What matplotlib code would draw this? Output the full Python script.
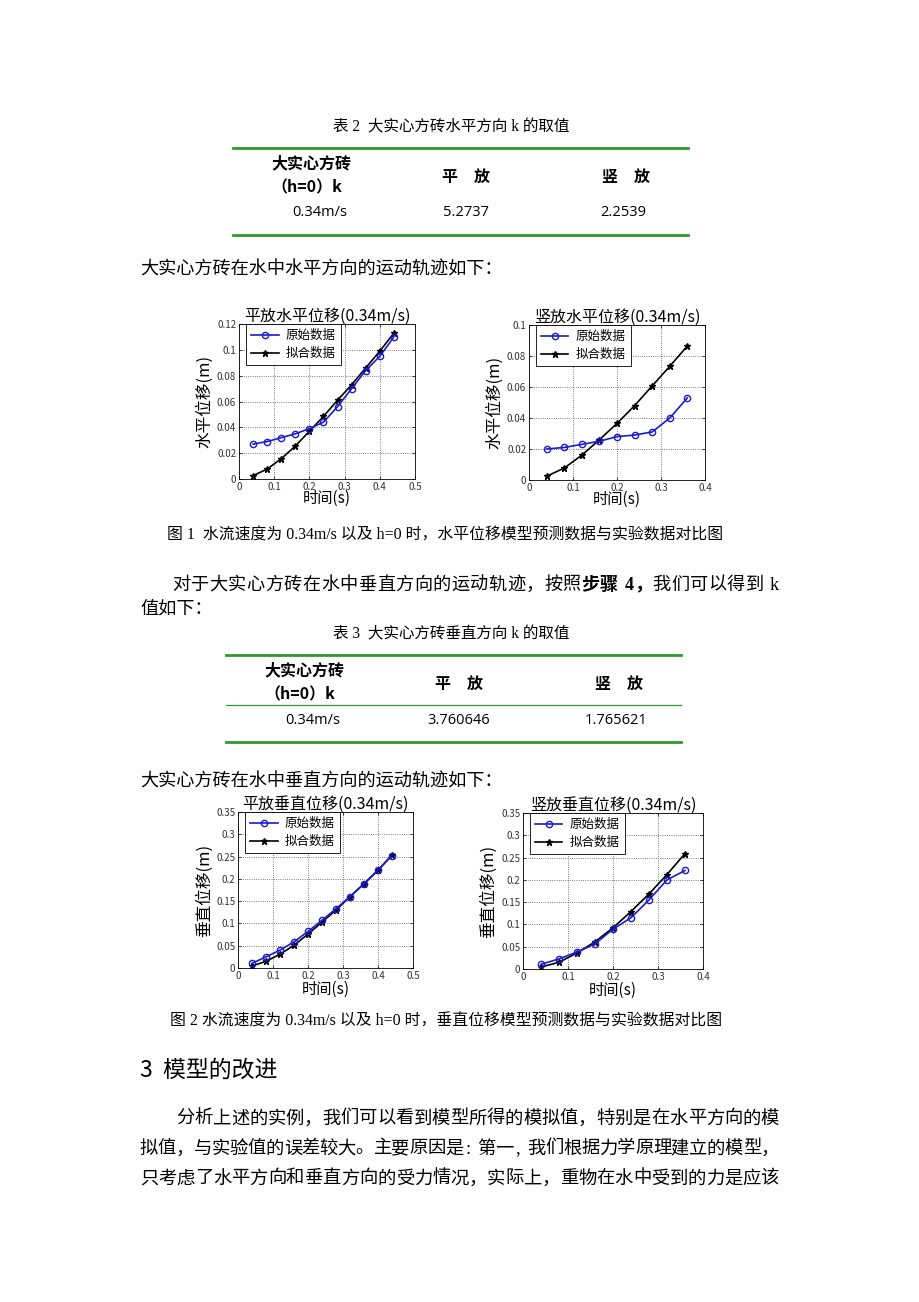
import matplotlib.pyplot as plt
from matplotlib.lines import Line2D
from matplotlib.ticker import FuncFormatter, MultipleLocator

W, H = 920, 1302
CJK = ['Noto Sans CJK SC', 'DejaVu Sans']
SERIF = ['Liberation Serif', 'Noto Sans CJK SC']

plt.rcParams['font.family'] = CJK
plt.rcParams['axes.unicode_minus'] = False

# time stamps (s)
t_long = [0.04, 0.08, 0.12, 0.16, 0.20, 0.24, 0.28, 0.32, 0.36, 0.40, 0.44]
t_short = [0.04, 0.08, 0.12, 0.16, 0.20, 0.24, 0.28, 0.32, 0.36]

# 平放水平位移
flat_h_raw = [0.027, 0.029, 0.032, 0.035, 0.039, 0.044, 0.056, 0.070, 0.084, 0.095, 0.110]
flat_h_fit = [0.0026, 0.0077, 0.0157, 0.0255, 0.037, 0.0485, 0.061, 0.073, 0.086, 0.099, 0.113]
# 竖放水平位移
vert_h_raw = [0.020, 0.021, 0.023, 0.025, 0.028, 0.029, 0.031, 0.040, 0.053]
vert_h_fit = [0.0024, 0.0077, 0.016, 0.026, 0.0365, 0.048, 0.0607, 0.0734, 0.0865]
# 平放垂直位移
flat_v_raw = [0.0105, 0.025, 0.040, 0.0586, 0.082, 0.107, 0.133, 0.160, 0.189, 0.220, 0.252]
flat_v_fit = [0.0045, 0.015, 0.031, 0.051, 0.076, 0.103, 0.130, 0.160, 0.189, 0.219, 0.254]
# 竖放垂直位移
vert_v_raw = [0.0105, 0.0226, 0.038, 0.0564, 0.0895, 0.115, 0.155, 0.200, 0.221]
vert_v_fit = [0.0045, 0.015, 0.036, 0.061, 0.0925, 0.129, 0.1685, 0.212, 0.259]

# tables
speed = '0.34m/s'
col_names = ['平\u3000放', '竖\u3000放']
k_horizontal = ['5.2737', '2.2539']
k_vertical = ['3.760646', '1.765621']

fig = plt.figure(figsize=(W / 100, H / 100), dpi=100)


def put(x, y, s, size, ha='left', weight='normal', family=CJK):
    fig.text(x / W, 1 - y / H, s, fontsize=size, ha=ha, va='center_baseline',
             fontweight=weight, family=family)


def justify(x0, x1, y, s, size, bold=()):
    em = size * 100 / 72
    widths = [em if ord(c) > 0x2e7f else (0.3 if c == ' ' else 0.5) * em for c in s]
    extra = (x1 - x0 - sum(widths)) / (len(s) - 1)
    x = x0
    for i, (c, w) in enumerate(zip(s, widths)):
        if c != ' ':
            put(x + w / 2, y, c, size, ha='center',
                weight='bold' if i in bold else 'normal', family=SERIF)
        x += w + extra


def hline(x0, x1, y, lw):
    fig.add_artist(Line2D([x0 / W, x1 / W], [1 - y / H] * 2, transform=fig.transFigure,
                          color='#2f9a2f', lw=lw))


def table(top, x0, x1, title, vals, mid=None):
    put(451, top - 23, title, 11.2, ha='center', family=SERIF)
    hline(x0, x1, top, 2.0)
    put(x0 + 78, top + 14, '大实心方砖', 11.5, ha='center', weight='bold')
    put(x0 + 74, top + 38, '（h=0）k', 11.5, ha='center', weight='bold')
    put(x0 + 233, top + 27, col_names[0], 11.5, ha='center', weight='bold')
    put(x0 + 393, top + 27, col_names[1], 11.5, ha='center', weight='bold')
    if mid is not None:
        hline(x0, x1, top + mid, 0.9)
    put(x0 + 87, top + 63, speed, 10.5, ha='center', family=['Open Sans'])
    put(x0 + 233, top + 63, vals[0], 10.5, ha='center', family=['Open Sans'])
    put(x0 + 390, top + 63, vals[1], 10.5, ha='center', family=['Open Sans'])
    hline(x0, x1, top + 87, 2.0)


def chart(box, t, raw, fit, title, ylabel, xmax, ymax, ystep, ylab_x, xlab_y):
    l, r, top, bot = box
    ax = fig.add_axes([l / W, 1 - bot / H, (r - l) / W, (bot - top) / H])
    ax.plot(t, fit, '-*', color='k', ms=5, lw=1.2, label='拟合数据', zorder=3)
    ax.plot(t, raw, '-o', color='#1a1ad0', mfc='none', ms=4.5, mew=1.0, lw=1.2,
            label='原始数据', zorder=4)
    ax.set_xlim(0, xmax)
    ax.set_ylim(0, ymax)
    ax.xaxis.set_major_locator(MultipleLocator(0.1))
    ax.yaxis.set_major_locator(MultipleLocator(ystep))
    fmt = FuncFormatter(lambda v, p: '%g' % round(v, 4))
    ax.xaxis.set_major_formatter(fmt)
    ax.yaxis.set_major_formatter(fmt)
    ax.tick_params(direction='in', top=True, right=True, labelsize=7, length=2.5,
                   width=0.5, pad=2, labelcolor='#333333')
    ax.grid(True, ls=':', color='#555555', lw=0.6)
    for sp in ax.spines.values():
        sp.set_linewidth(0.6)
    ax.set_title(title, fontsize=11.5, pad=2)
    ax.set_ylabel(ylabel, fontsize=12)
    ax.yaxis.set_label_coords((ylab_x - l) / (r - l), 0.5)
    ax.set_xlabel('时间(s)', fontsize=11)
    ax.xaxis.set_label_coords(0.5, -(xlab_y - bot) / (bot - top))
    handles, labels = ax.get_legend_handles_labels()
    leg = ax.legend(handles[::-1], labels[::-1], loc='upper left',
                    bbox_to_anchor=(7 / (r - l), 1.0), borderaxespad=0, fontsize=9,
                    frameon=True, fancybox=False, edgecolor='k', framealpha=1,
                    handlelength=2.2, handletextpad=0.6, labelspacing=0.4,
                    borderpad=0.4)
    leg.get_frame().set_linewidth(0.6)
    return ax


# ---- table 2 ----
table(148, 233, 688, '表 2  大实心方砖水平方向 k 的取值', k_horizontal)

put(140, 268, '大实心方砖在水中水平方向的运动轨迹如下：', 13.1, family=SERIF)

chart((239, 415, 324, 479), t_long, flat_h_raw, flat_h_fit, '平放水平位移(0.34m/s)',
      '水平位移(m)', 0.5, 0.12, 0.02, 213, 490)
chart((529, 705, 325, 480), t_short, vert_h_raw, vert_h_fit, '竖放水平位移(0.34m/s)',
      '水平位移(m)', 0.4, 0.1, 0.02, 503, 491)

put(167, 534, '图 1  水流速度为 0.34m/s 以及 h=0 时，水平位移模型预测数据与实验数据对比图',
    11.4, family=SERIF)

s = '对于大实心方砖在水中垂直方向的运动轨迹，按照步骤 4，我们可以得到 k'
i = s.index('步骤')
justify(172, 779, 583, s, 13.1, bold=range(i, i + 5))
put(140, 607, '值如下：', 13.1, family=SERIF)

# ---- table 3 ----
table(655, 226, 681, '表 3  大实心方砖垂直方向 k 的取值', k_vertical, mid=50)

put(140, 780, '大实心方砖在水中垂直方向的运动轨迹如下：', 13.1, family=SERIF)

chart((238, 413, 812, 968), t_long, flat_v_raw, flat_v_fit, '平放垂直位移(0.34m/s)',
      '垂直位移(m)', 0.5, 0.35, 0.05, 213, 981)
chart((523, 703, 813, 969), t_short, vert_v_raw, vert_v_fit, '竖放垂直位移(0.34m/s)',
      '垂直位移(m)', 0.4, 0.35, 0.05, 497, 982)

put(170, 1020, '图 2 水流速度为 0.34m/s 以及 h=0 时，垂直位移模型预测数据与实验数据对比图',
    11.4, family=SERIF)

put(140, 1068, '3  模型的改进', 16.5)

justify(176, 779, 1117, '分析上述的实例，我们可以看到模型所得的模拟值，特别是在水平方向的模', 13.2)
justify(140, 779, 1147, '拟值，与实验值的误差较大。主要原因是: 第一, 我们根据力学原理建立的模型，', 13.2)
justify(140, 779, 1177, '只考虑了水平方向和垂直方向的受力情况，实际上，重物在水中受到的力是应该', 13.2)

fig.savefig('out.png', dpi=100)
